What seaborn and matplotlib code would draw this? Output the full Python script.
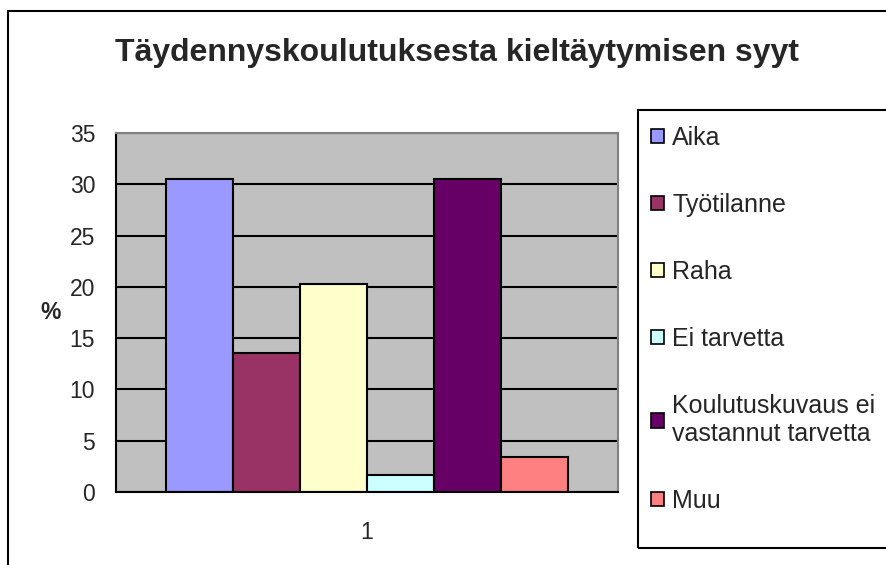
import numpy as np
import pandas as pd
import seaborn as sns
import matplotlib.pyplot as plt
from matplotlib.patches import Rectangle

reasons = ["Aika", "Työtilanne", "Raha", "Ei tarvetta",
           "Koulutuskuvaus ei\nvastannut tarvetta", "Muu"]
percent = [30.5, 13.6, 20.3, 1.7, 30.5, 3.4]
group = ["1"] * len(reasons)
colors = ["#9999FF", "#993366", "#FFFFCC", "#CCFFFF", "#660066", "#FF8080"]

df = pd.DataFrame({"group": group, "reason": reasons, "percent": percent})

sns.set_style("white")
plt.rcParams["font.family"] = ["Liberation Sans", "DejaVu Sans"]

fig = plt.figure(figsize=(8.86, 5.65), dpi=100)
ax = fig.add_axes([116 / 886, 1 - 492 / 565, 502 / 886, 359 / 565])

sns.barplot(data=df, x="group", y="percent", hue="reason", palette=colors,
            saturation=1, edgecolor="black", linewidth=1.5, width=0.8,
            ax=ax)

handles, labels = ax.get_legend_handles_labels()
ax.get_legend().remove()

ax.set_facecolor("#C0C0C0")
ax.set_ylim(0, 35)
ax.set_xlim(-0.5, 0.5)
ax.set_yticks(np.arange(0, 36, 5))
ax.yaxis.grid(True, color="black", linewidth=1.5)
ax.set_axisbelow(True)
ax.tick_params(axis="y", length=6, width=1.2, color="black", labelsize=16.5, pad=9)
ax.tick_params(axis="x", length=0, labelsize=16.5, pad=21)
ax.set_xticks([-0.5, 0.5], minor=True)
ax.tick_params(axis="x", which="minor", length=6, width=1.2, color="black")
ax.set_xlabel("")
ax.set_ylabel("%", fontsize=16.5, fontweight="bold", rotation=0,
              ha="center", va="center")
ax.yaxis.set_label_coords(-0.131, 0.5)
for side in ["left", "bottom"]:
    ax.spines[side].set_color("black")
    ax.spines[side].set_linewidth(1.5)
for side in ["top", "right"]:
    ax.spines[side].set_color("#808080")
    ax.spines[side].set_linewidth(1.5)

fig.text(457 / 886, 1 - 53 / 565, "Täydennyskoulutuksesta kieltäytymisen syyt",
         ha="center", va="center", fontsize=23, fontweight="bold")

# outer chart border and legend box (run off the right/bottom edge)
fig.patches.append(Rectangle((8 / 886, -0.1), 1.2, 1 - 11 / 565 + 0.1,
                             transform=fig.transFigure, fill=False,
                             edgecolor="black", linewidth=1.5))
fig.patches.append(Rectangle((638 / 886, 1 - 548 / 565), 1.0, 438 / 565,
                             transform=fig.transFigure, fill=False,
                             edgecolor="black", linewidth=1.5))

for h in handles:
    h.set_linewidth(1.2)
fig.legend(handles, labels, loc="upper left",
           bbox_to_anchor=(641 / 886, 1 - 116 / 565), frameon=False,
           fontsize=18, labelspacing=1.72, handlelength=0.5,
           handleheight=0.5, handletextpad=0.35, borderaxespad=0)

fig.savefig("out.png", dpi=100)
